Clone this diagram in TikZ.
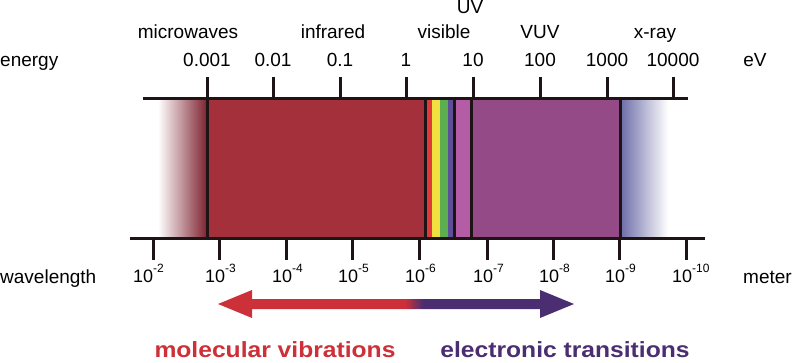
\documentclass[tikz,border=0pt]{standalone}
\usepackage{fontspec}
\setmainfont{Liberation Sans}
\newfontfamily\boldstretch[FakeStretch=1.12]{Liberation Sans Bold}
\definecolor{lineblk}{HTML}{1E1416}
\definecolor{bandred}{HTML}{A3303A}
\definecolor{banddark}{HTML}{7E2230}
\definecolor{bandpurple}{HTML}{934A86}
\definecolor{bandpink}{HTML}{B45CA5}
\definecolor{visred}{HTML}{E0393A}
\definecolor{visyellow}{HTML}{F2E040}
\definecolor{visgreen}{HTML}{5DAE4F}
\definecolor{visblue}{HTML}{5C4F98}
\definecolor{xblue}{HTML}{6C6CA8}
\definecolor{ared}{HTML}{CC3038}
\definecolor{apurple}{HTML}{4B2E72}
\pgfdeclarehorizontalshading{arrowshade}{100bp}{color(0bp)=(ared); color(51.3bp)=(ared); color(53.8bp)=(apurple); color(100bp)=(apurple)}
\newcommand{\tenexp}[1]{10\raisebox{10pt}{\fontsize{12}{12}\selectfont -#1}}
\begin{document}
\begin{tikzpicture}[x=1pt,y=-1pt,
  axisline/.style={draw=lineblk,line width=3pt},
  bandline/.style={draw=lineblk,line width=3pt},
  tickmark/.style={draw=lineblk,line width=3pt},
  lbl/.style={font=\fontsize{19}{19}\selectfont,text=black,inner sep=0pt,anchor=base},
  wl/.style={font=\fontsize{18}{18}\selectfont,text=black,inner sep=0pt,anchor=base west},
  bigred/.style={font=\fontsize{22}{22}\boldstretch,text=ared,inner sep=0pt,anchor=base},
  bigpurple/.style={font=\fontsize{22}{22}\boldstretch,text=apurple,inner sep=0pt,anchor=base}]
\useasboundingbox (0,0) rectangle (794,363);
% band fills
\fill[bandred] (207,99) rectangle (425,238);
\shade[left color=white,right color=banddark] (158,100.5) rectangle (207,236.5);
\fill[visred] (425,99) rectangle (432,238);
\fill[visyellow] (432,99) rectangle (440,238);
\fill[visgreen] (440,99) rectangle (448,238);
\fill[visblue] (448,99) rectangle (454,238);
\fill[bandpink] (454,99) rectangle (471,238);
\fill[bandpurple] (471,99) rectangle (620,238);
\shade[left color=xblue,right color=white] (620,100.5) rectangle (668,236.5);
% band separators
\foreach \x in {207,425,454,471,620}{\draw[bandline] (\x,99) -- (\x,238);}
% axes
\coordinate (ta) at (143,99); \coordinate (tb) at (688,99);
\coordinate (ba) at (130,238); \coordinate (bb) at (705,238);
\draw[axisline] (ta) -- (tb);
\draw[axisline] (ba) -- (bb);
% top ticks and labels
\foreach \x/\t in {207/0.001,273/0.01,340/0.1,406/1,473/10,540/100,607/1000,673/10000}{
  \draw[tickmark] (\x,77) -- (\x,99);
  \node[lbl] at (\x,67) {\t};}
% bottom ticks and labels
\foreach \x in {153,219,286,352,419,487,553,619,686}{\draw[tickmark] (\x,238) -- (\x,260);}
\node[wl] at (133,282) {\tenexp{2}};
\foreach \x/\e in {219/3,286/4,352/5,419/6,487/7,553/8,619/9,686/10}{
  \node[wl] at (\x-14,282) {\tenexp{\e}};}
% category labels
\node[lbl] at (188,39) {microwaves};
\node[lbl] at (333,39) {infrared};
\node[lbl] at (444,39) {visible};
\node[lbl] at (470,14) {UV};
\node[lbl] at (540,39) {VUV};
\node[lbl] at (655,39) {x-ray};
\node[lbl,anchor=base west] at (0,67) {energy};
\node[lbl] at (755,67) {eV};
\node[lbl,anchor=base west] at (0,283) {wavelength};
\node[lbl,anchor=base west] at (743,283) {meter};
% double arrow
\shade[shading=arrowshade] (218,304) -- (252,290) -- (252,299) -- (540,299) -- (540,290) -- (574,304) -- (540,318) -- (540,309) -- (252,309) -- (252,318) -- cycle;
\node[bigred] at (275,357) {molecular vibrations};
\node[bigpurple] at (565,357) {electronic transitions};
\end{tikzpicture}
\end{document}
